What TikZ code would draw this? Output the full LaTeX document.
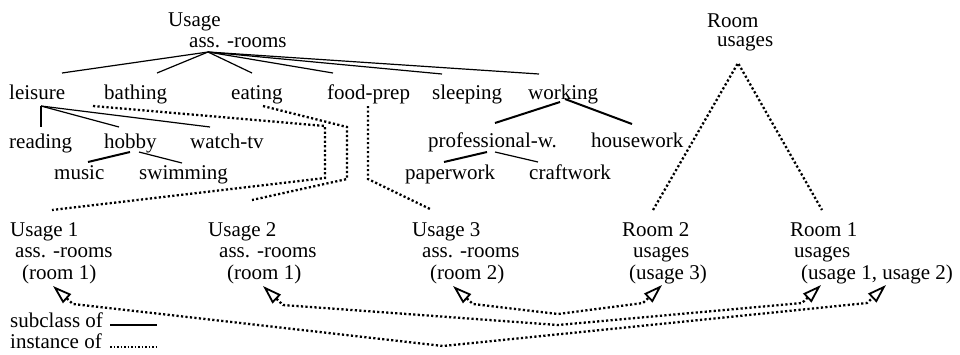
\documentclass[tikz,border=0pt]{standalone}
\usepackage{fontspec}
\setmainfont{Liberation Serif}
\usetikzlibrary{arrows.meta}
\tikzset{opentri/.tip={Triangle[open,length=19pt,width=12pt,line width=1.8pt]}}
\begin{document}
\begin{tikzpicture}[x=1pt,y=-1pt,
  lbl/.style={inner sep=0pt,anchor=base west,font=\fontsize{21pt}{22pt}\selectfont},
  sub/.style={line width=1.2pt},
  subb/.style={line width=2pt},
  inst/.style={line width=2.3pt,dash pattern=on 2.2pt off 2.3pt},
  insttip/.style={inst,{opentri}-{opentri}}]
\path[use as bounding box] (0,0) rectangle (960,354);

% class hierarchy of usages
\node[lbl] (usage) at (168,26) {Usage};
\node[lbl] (usageatt) at (189,47) {ass. -rooms};
\node[lbl] (leisure) at (9,99) {leisure};
\node[lbl] (bathing) at (104,99) {bathing};
\node[lbl] (eating) at (231,99) {eating};
\node[lbl] (foodprep) at (327,99) {food-prep};
\node[lbl] (sleeping) at (432,99) {sleeping};
\node[lbl] (working) at (528,99) {working};
\node[lbl] (reading) at (9,148) {reading};
\node[lbl] (hobby) at (104,148) {hobby};
\node[lbl] (watchtv) at (190,148) {watch-tv};
\node[lbl] (music) at (54,179) {music};
\node[lbl] (swimming) at (139,179) {swimming};
\node[lbl] (profw) at (428,147) {professional-w.};
\node[lbl] (housework) at (591,147) {housework};
\node[lbl] (paperwork) at (405,179) {paperwork};
\node[lbl] (craftwork) at (529,179) {craftwork};

% room class
\node[lbl] (room) at (707,27) {Room};
\node[lbl] (roomatt) at (717,46) {usages};

% instances
\node[lbl] (uA) at (10,236) {Usage 1};
\node[lbl] (uAatt) at (15,257) {ass. -rooms};
\node[lbl] (uAval) at (22,279) {(room 1)};
\node[lbl] (uB) at (208,236) {Usage 2};
\node[lbl] (uBatt) at (219,257) {ass. -rooms};
\node[lbl] (uBval) at (227,279) {(room 1)};
\node[lbl] (uC) at (412,236) {Usage 3};
\node[lbl] (uCatt) at (422,257) {ass. -rooms};
\node[lbl] (uCval) at (430,279) {(room 2)};
\node[lbl] (rB) at (622,236) {Room 2};
\node[lbl] (rBatt) at (633,257) {usages};
\node[lbl] (rBval) at (629,279) {(usage 3)};
\node[lbl] (rA) at (790,236) {Room 1};
\node[lbl] (rAatt) at (794,257) {usages};
\node[lbl] (rAval) at (801,279) {(usage 1, usage 2)};

% legend
\node[lbl] (legsub) at (10,327) {subclass of};
\node[lbl] (leginst) at (10,348) {instance of};
\coordinate (legsubA) at (110,325);
\coordinate (legsubB) at (157,325);
\coordinate (leginstA) at (110,347);
\coordinate (leginstB) at (157,347);
\draw[sub] (legsubA) -- (legsubB);
\draw[inst,line width=1.8pt,dash pattern=on 1.6pt off 1.9pt] (leginstA) -- (leginstB);

% subclass links
\coordinate (usageS) at (208,52);
\coordinate (leisureN) at (62,73);
\coordinate (bathingN) at (157,73);
\coordinate (eatingN) at (252,73);
\coordinate (foodprepN) at (333,73);
\coordinate (sleepingN) at (442,74);
\coordinate (workingN) at (539,74);
\draw[sub] (usageS) -- (leisureN);
\draw[sub] (usageS) -- (bathingN);
\draw[sub] (usageS) -- (eatingN);
\draw[sub] (usageS) -- (foodprepN);
\draw[sub] (usageS) -- (sleepingN);
\draw[sub] (usageS) -- (workingN);

\coordinate (leisureS) at (41,106);
\coordinate (readingN) at (41,127);
\coordinate (hobbyN) at (119,127);
\coordinate (watchtvN) at (210,127);
\draw[sub] (leisureS) -- (readingN);
\draw[sub] (leisureS) -- (hobbyN);
\draw[sub] (leisureS) -- (watchtvN);

\coordinate (hobbySa) at (130,152);
\coordinate (hobbySb) at (139,152);
\coordinate (musicN) at (88,162);
\coordinate (swimmingN) at (182,163);
\draw[subb] (hobbySa) -- (musicN);
\draw[sub] (hobbySb) -- (swimmingN);

\coordinate (workingSa) at (560,102);
\coordinate (workingSb) at (565,99);
\coordinate (profwN) at (495,123);
\coordinate (houseworkN) at (632,124);
\draw[subb] (workingSa) -- (profwN);
\draw[subb] (workingSb) -- (houseworkN);

\coordinate (profwSa) at (487,152);
\coordinate (profwSb) at (495,152);
\coordinate (paperworkN) at (444,162);
\coordinate (craftworkN) at (538,162);
\draw[subb] (profwSa) -- (paperworkN);
\draw[sub] (profwSb) -- (craftworkN);

% instance links to the classes
\coordinate (bathingS) at (93,106);
\coordinate (kA1) at (325,126);
\coordinate (kA2) at (325,178);
\coordinate (uAN) at (52,210);
\draw[inst] (bathingS) -- (kA1) -- (kA2) -- (uAN);

\coordinate (eatingS) at (263,106);
\coordinate (kB1) at (347,127);
\coordinate (kB2) at (347,179);
\coordinate (uBN) at (252,200);
\draw[inst] (eatingS) -- (kB1) -- (kB2) -- (uBN);

\coordinate (foodprepS) at (368,106);
\coordinate (kC1) at (368,179);
\coordinate (uCN) at (430,209);
\draw[inst] (foodprepS) -- (kC1) -- (uCN);

\coordinate (roomS) at (738,63);
\coordinate (rBN) at (653,210);
\coordinate (rAN) at (822,210);
\draw[inst] (rBN) -- (roomS) -- (rAN);

% attribute cross references
\coordinate (uAtip) at (53,286);
\coordinate (uAbase) at (73,304);
\coordinate (uBtip) at (263,286);
\coordinate (uBbase) at (283,305);
\coordinate (uCtip) at (453,286);
\coordinate (uCbase) at (473,304);
\coordinate (rBbase) at (643,303);
\coordinate (rBtip) at (662,285);
\coordinate (rAbase) at (802,303);
\coordinate (rAtip) at (821,285);
\coordinate (rAbaseb) at (867,303);
\coordinate (rAtipb) at (886,285);
\coordinate (dipA) at (443,346);
\coordinate (dipB) at (558,325);
\coordinate (dipC) at (558,314);
\draw[insttip] (uAtip) -- (uAbase) -- (dipA) -- (rAbaseb) -- (rAtipb);
\draw[insttip] (uBtip) -- (uBbase) -- (dipB) -- (rAbase) -- (rAtip);
\draw[insttip] (uCtip) -- (uCbase) -- (dipC) -- (rBbase) -- (rBtip);
\end{tikzpicture}
\end{document}
